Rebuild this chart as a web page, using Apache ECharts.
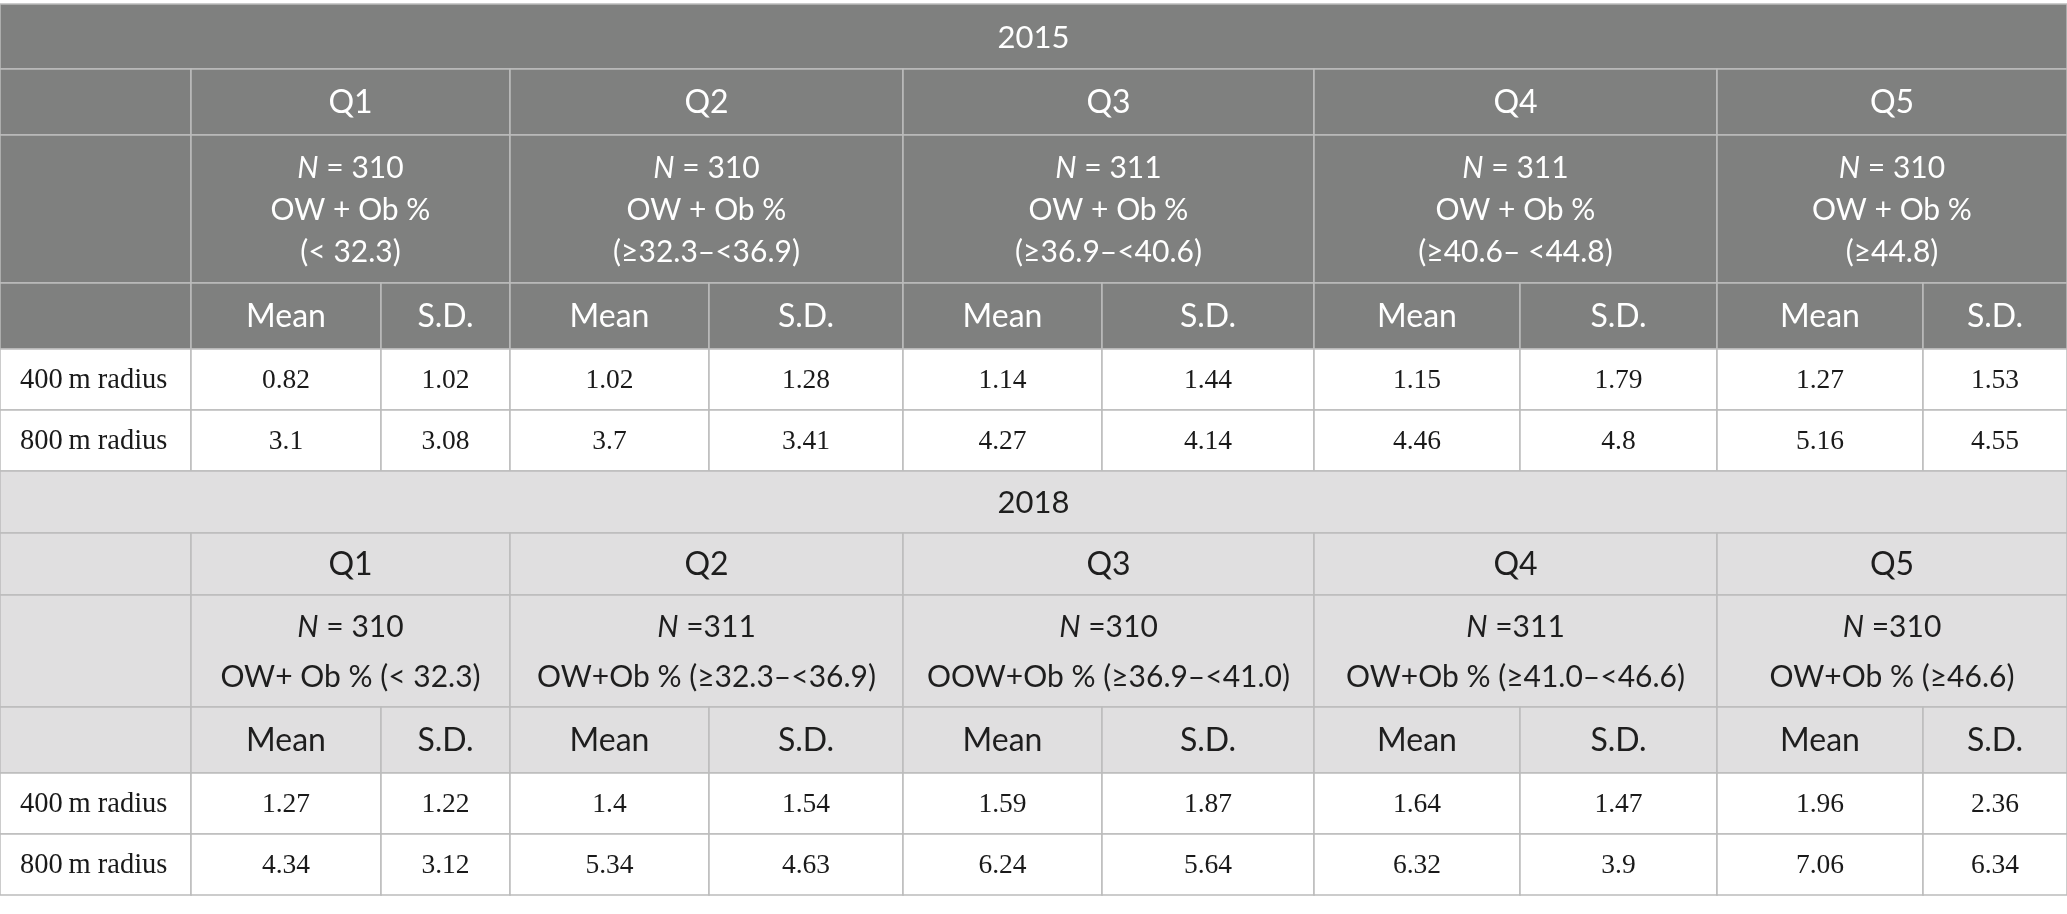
<!DOCTYPE html>
<html>
<head>
<meta charset="utf-8">
<script src="https://cdn.jsdelivr.net/npm/echarts@6/dist/echarts.min.js"></script>
<style>
html,body{margin:0;padding:0;background:#fff;}
#chart{width:2067px;height:914px;}
</style>
</head>
<body>
<div id="chart"></div>
<script>
// ---- data ----
const years = ['2015', '2018'];
const quintiles = ['Q1', 'Q2', 'Q3', 'Q4', 'Q5'];
const statHeads = ['Mean', 'S.D.'];
const rowLabels = ['400\u2009m radius', '800\u2009m radius'];
const nText2015 = ['= 310', '= 310', '= 311', '= 311', '= 310'];
const nText2018 = ['= 310', '=311', '=310', '=311', '=310'];
const range2015 = ['(< 32.3)', '(\u226532.3\u2013<36.9)', '(\u226536.9\u2013<40.6)', '(\u226540.6\u2013 <44.8)', '(\u226544.8)'];
const range2018 = ['OW+ Ob % (< 32.3)', 'OW+Ob % (\u226532.3\u2013<36.9)', 'OOW+Ob % (\u226536.9\u2013<41.0)', 'OW+Ob % (\u226541.0\u2013<46.6)', 'OW+Ob % (\u226546.6)'];
const mean400_2015 = [0.82, 1.02, 1.14, 1.15, 1.27];
const sd400_2015 = [1.02, 1.28, 1.44, 1.79, 1.53];
const mean800_2015 = [3.1, 3.7, 4.27, 4.46, 5.16];
const sd800_2015 = [3.08, 3.41, 4.14, 4.8, 4.55];
const mean400_2018 = [1.27, 1.4, 1.59, 1.64, 1.96];
const sd400_2018 = [1.22, 1.54, 1.87, 1.47, 2.36];
const mean800_2018 = [4.34, 5.34, 6.24, 6.32, 7.06];
const sd800_2018 = [3.12, 4.63, 5.64, 3.9, 6.34];

// ---- layout (positions in axis units) ----
const colEdges = [0, 191, 381, 510, 709, 903, 1102, 1314, 1520, 1717, 1923, 2067];
const rowEdges = [4, 69, 135, 283, 349, 410, 471, 533, 595, 707, 773, 834, 895];

// ---- build cells ----
const cells = []; // [x0, x1, y0, y1, text, kind, align]
function addCell(c0, c1, r, text, kind, align) {
  cells.push([colEdges[c0], colEdges[c1], rowEdges[r], rowEdges[r + 1], text, kind, align || 'center']);
}
const blocks = [
  {year: years[0], theme: 'dark', rangeFn: (q) => '{i|N} ' + nText2015[q] + '\nOW + Ob %\n' + range2015[q],
   vals: [[mean400_2015, sd400_2015], [mean800_2015, sd800_2015]]},
  {year: years[1], theme: 'light', rangeFn: (q) => '{i|N} ' + nText2018[q] + '\n' + range2018[q],
   vals: [[mean400_2018, sd400_2018], [mean800_2018, sd800_2018]]}
];
blocks.forEach((b, bi) => {
  const r0 = bi * 6;
  const hk = b.theme;
  addCell(0, 11, r0, b.year, hk + 'Year');
  addCell(0, 1, r0 + 1, '', hk + 'Head');
  addCell(0, 1, r0 + 2, '', hk + 'Head');
  addCell(0, 1, r0 + 3, '', hk + 'Head');
  quintiles.forEach((q, qi) => {
    const c0 = 1 + qi * 2;
    addCell(c0, c0 + 2, r0 + 1, q, hk + 'Head');
    addCell(c0, c0 + 2, r0 + 2, b.rangeFn(qi), hk + 'N');
    addCell(c0, c0 + 1, r0 + 3, statHeads[0], hk + 'Head');
    addCell(c0 + 1, c0 + 2, r0 + 3, statHeads[1], hk + 'Head');
  });
  rowLabels.forEach((lab, li) => {
    addCell(0, 1, r0 + 4 + li, lab, 'label', 'left');
    quintiles.forEach((q, qi) => {
      const c0 = 1 + qi * 2;
      addCell(c0, c0 + 1, r0 + 4 + li, String(b.vals[li][0][qi]), 'body');
      addCell(c0 + 1, c0 + 2, r0 + 4 + li, String(b.vals[li][1][qi]), 'body');
    });
  });
});

const serif = '"Liberation Serif", "Times New Roman", serif';
const styles = {
  darkYear: {fill: '#7f807f', color: '#ffffff', font: 'Lato', size: 31, lh: 42, weight: 'normal'},
  darkHead: {fill: '#7f807f', color: '#ffffff', font: 'Lato', size: 32, lh: 42, weight: 'normal'},
  darkN: {fill: '#7f807f', color: '#ffffff', font: 'Lato', size: 30, lh: 42, weight: 'normal'},
  lightYear: {fill: '#e0dfe0', color: '#1e1e1e', font: 'Lato', size: 31, lh: 50, weight: 'normal'},
  lightHead: {fill: '#e0dfe0', color: '#1e1e1e', font: 'Lato', size: 32, lh: 50, weight: 'normal'},
  lightN: {fill: '#e0dfe0', color: '#1e1e1e', font: 'Lato', size: 30, lh: 50, weight: 'normal'},
  label: {fill: '#ffffff', color: '#1a1a1a', font: serif, size: 28.5, lh: 32, weight: 'normal'},
  body: {fill: '#ffffff', color: '#1a1a1a', font: serif, size: 27.5, lh: 32, weight: 'normal'}
};

const chart = echarts.init(document.getElementById('chart'), null, {renderer: 'canvas'});
chart.setOption({
  animation: false,
  grid: {left: 0, right: 0, top: 0, bottom: 0},
  xAxis: {type: 'value', min: 0, max: 2067, show: false},
  yAxis: {type: 'value', min: 0, max: 914, inverse: true, show: false},
  series: [{
    type: 'custom',
    coordinateSystem: 'cartesian2d',
    data: cells,
    encode: {x: [0, 1], y: [2, 3]},
    clip: false,
    renderItem: function (params, api) {
      const d = cells[params.dataIndex];
      const p0 = api.coord([d[0], d[2]]);
      const p1 = api.coord([d[1], d[3]]);
      const st = styles[d[5]];
      const align = d[6];
      const tx = align === 'left' ? p0[0] + 20 : (p0[0] + p1[0]) / 2;
      const ty = (p0[1] + p1[1]) / 2;
      return {
        type: 'group',
        children: [
          {type: 'rect', shape: {x: p0[0], y: p0[1], width: p1[0] - p0[0], height: p1[1] - p0[1]},
           style: {fill: st.fill, stroke: '#bcbcbc', lineWidth: 1.5}},
          {type: 'text', z2: 10, style: {
            text: d[4], x: tx, y: ty + 1, align: align, verticalAlign: 'middle',
            fontFamily: st.font, fontSize: st.size, fontWeight: st.weight, fill: st.color, lineHeight: st.lh,
            rich: {i: {fontStyle: 'italic', fontFamily: st.font, fontSize: st.size, fontWeight: st.weight, fill: st.color, lineHeight: st.lh}}
          }}
        ]
      };
    }
  }]
});
</script>
</body>
</html>
